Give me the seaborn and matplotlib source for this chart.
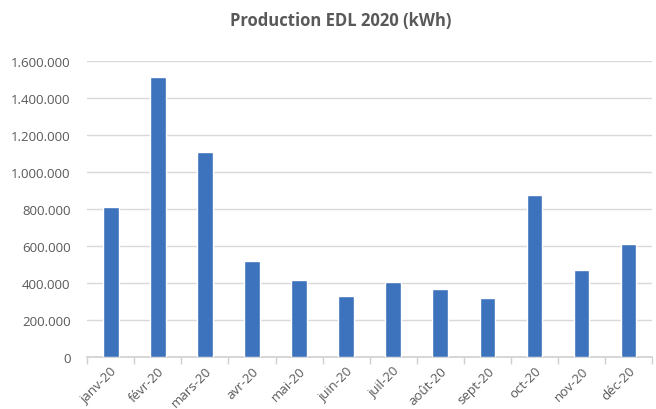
import numpy as np
import pandas as pd
import matplotlib
matplotlib.use('Agg')
import matplotlib.pyplot as plt
import seaborn as sns
from matplotlib.ticker import FuncFormatter, FixedLocator

months = ["janv-20", "févr-20", "mars-20", "avr-20", "mai-20", "juin-20",
          "juil-20", "août-20", "sept-20", "oct-20", "nov-20", "déc-20"]
production_kwh = [812000, 1515000, 1110000, 516000, 414000, 327000,
                  406000, 368000, 320000, 873000, 468000, 609000]

sns.set_style("white")
plt.rcParams['font.family'] = ['Open Sans', 'DejaVu Sans']

df = pd.DataFrame({"mois": months, "kwh": production_kwh})

fig = plt.figure(figsize=(6.56, 4.10), dpi=100)
ax = fig.add_axes([0.133, 0.127, 0.861, 0.722])

sns.barplot(data=df, x="mois", y="kwh", color="#3D72BC", saturation=1,
            width=0.33, ax=ax, zorder=3)

ax.set_ylim(0, 1600000)
ax.set_xlim(-0.5, len(months) - 0.5)
ax.set_yticks(np.arange(0, 1600001, 200000))
ax.yaxis.set_major_formatter(FuncFormatter(lambda v, p: f"{int(v):,}".replace(",", ".")))
ax.grid(axis="y", color="#d9d9d9", linewidth=1, zorder=0)

for s in ["top", "right", "left"]:
    ax.spines[s].set_visible(False)
ax.spines["bottom"].set_color("#d0d0d0")
ax.spines["bottom"].set_linewidth(1.2)

ax.tick_params(axis="y", length=0, labelsize=9.5, labelcolor="#595959", pad=12)
ax.tick_params(axis="x", which="major", length=0, labelsize=9.5, labelcolor="#595959", pad=5)
ax.xaxis.set_minor_locator(FixedLocator(np.arange(-0.5, len(months), 1)))
ax.tick_params(axis="x", which="minor", bottom=True, length=5, color="#d0d0d0", width=1,
               direction="out")
plt.setp(ax.get_xticklabels(), rotation=45, ha="right", rotation_mode="anchor")

ax.set_xlabel("")
ax.set_ylabel("")
fig.suptitle("Production EDL 2020 (kWh)", x=0.52, y=0.97, fontsize=12,
             fontweight="bold", color="#595959")

fig.savefig("out.png", dpi=100)
